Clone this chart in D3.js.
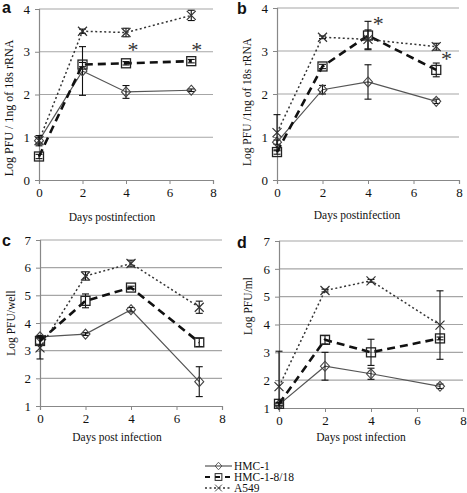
<!DOCTYPE html>
<html><head><meta charset="utf-8">
<script src="https://cdn.jsdelivr.net/npm/d3@7"></script>
<style>
body{margin:0;background:#fff;}
svg{display:block;}
.serif{font-family:"Liberation Serif","DejaVu Serif",serif;}
</style></head>
<body>
<svg id="chart" width="467" height="493"></svg>
<script>
// ---------- data ----------
const days = [0, 2, 4, 7];
const seriesNames = ["HMC-1", "HMC-1-8/18", "A549"];
const xTicks = [0, 2, 4, 6, 8];

// panel a : Log PFU / 1ng of 18s rRNA
const aHMC1 = [0.92, 2.55, 2.06, 2.10];
const aHMC1Err = [0.08, 0.57, 0.15, 0.03];
const aHMC818 = [0.55, 2.70, 2.73, 2.78];
const aHMC818Err = [0.05, 0.05, 0.04, 0.04];
const aA549 = [0.92, 3.48, 3.45, 3.85];
const aA549Err = [0.12, 0.05, 0.10, 0.12];
const aStars = [[4.32, 3.08], [7.25, 3.08]];

// panel b
const bHMC1 = [0.88, 2.10, 2.28, 1.83];
const bHMC1Err = [0.05, 0.10, 0.40, 0.05];
const bHMC818 = [0.65, 2.64, 3.36, 2.56];
const bHMC818Err = [0.05, 0.05, 0.33, 0.16];
const bA549 = [1.10, 3.32, 3.27, 3.10];
const bA549Err = [0.42, 0.03, 0.22, 0.08];
const bStars = [[4.45, 3.67], [7.45, 2.86]];

// panel c : Log PFU/well
const cHMC1 = [3.50, 3.60, 4.48, 1.88];
const cHMC1Err = [0.05, 0.05, 0.08, 0.54];
const cHMC818 = [3.35, 4.80, 5.28, 3.30];
const cHMC818Err = [0.12, 0.25, 0.05, 0.15];
const cA549 = [3.10, 5.70, 6.15, 4.57];
const cA549Err = [0.40, 0.15, 0.12, 0.22];

// panel d : Log PFU/ml
const dHMC1 = [1.12, 2.50, 2.23, 1.78];
const dHMC1Err = [0.05, 0.50, 0.20, 0.08];
const dHMC818 = [1.15, 3.45, 3.00, 3.50];
const dHMC818Err = [0.05, 0.15, 0.47, 0.05];
const dA549 = [1.77, 5.22, 5.57, 3.98];
const dA549Err = [1.27, 0.05, 0.05, 1.23];

const yTicksAB = [0, 1, 2, 3, 4];
const yTicksCD = [1, 2, 3, 4, 5, 6, 7];

// ---------- drawing ----------
const svg = d3.select("#chart");
const serif = '"Liberation Serif","DejaVu Serif",serif';
const styles = [
  {stroke:"#555", width:1.2, dash:null, marker:"diamond"},
  {stroke:"#111", width:2.6, dash:"8,5", marker:"square"},
  {stroke:"#333", width:1.5, dash:"2,2.5", marker:"x"}
];

function drawMarker(g, type, cx, cy){
  if(type==="diamond"){
    g.append("path").attr("d",`M${cx},${cy-5}L${cx+4.5},${cy}L${cx},${cy+5}L${cx-4.5},${cy}Z`)
      .attr("fill","none").attr("stroke","#444").attr("stroke-width",1.1);
  } else if(type==="square"){
    g.append("rect").attr("x",cx-4.5).attr("y",cy-4.5).attr("width",9).attr("height",9)
      .attr("fill","none").attr("stroke","#222").attr("stroke-width",1.3);
  } else {
    g.append("path").attr("d",`M${cx-4.5},${cy-4.5}L${cx+4.5},${cy+4.5}M${cx+4.5},${cy-4.5}L${cx-4.5},${cy+4.5}`)
      .attr("fill","none").attr("stroke","#333").attr("stroke-width",1.2);
  }
}

function panel(cfg){
  const x = d3.scaleLinear().domain([0,8]).range(cfg.xr);
  const y = d3.scaleLinear().domain(cfg.yd).range(cfg.yr);
  const g = svg.append("g");
  // gridlines
  g.selectAll(".grid").data(cfg.yTicks.filter(t=>t!==cfg.yd[0])).enter().append("line")
    .attr("x1",cfg.xr[0]).attr("x2",cfg.xr[1])
    .attr("y1",d=>y(d)).attr("y2",d=>y(d))
    .attr("stroke","#a6a6a6").attr("stroke-width",1.2);
  // y axis
  const ya = g.append("g").attr("transform",`translate(${cfg.xr[0]},0)`)
    .call(d3.axisLeft(y).tickValues(cfg.yTicks).tickSize(4).tickPadding(5).tickFormat(d3.format("d")));
  ya.attr("font-family",null);
  ya.select(".domain").attr("stroke","#888").attr("stroke-width",1.2);
  ya.selectAll(".tick line").attr("stroke","#888");
  ya.selectAll(".tick text").attr("class","serif").style("font-family",serif).style("font-size","13px").attr("fill","#111");
  // x axis
  const xa = g.append("g").attr("transform",`translate(0,${cfg.yr[0]})`)
    .call(d3.axisBottom(x).tickValues(xTicks).tickSize(4).tickPadding(4).tickFormat(d3.format("d")));
  xa.attr("font-family",null);
  xa.select(".domain").attr("stroke","#888").attr("stroke-width",1.2);
  xa.selectAll(".tick line").attr("stroke","#888");
  xa.selectAll(".tick text").attr("class","serif").style("font-family",serif).style("font-size","13px").attr("fill","#111");

  const yMin = cfg.yd[0], yMax = cfg.yd[1];
  cfg.series.forEach((s,i)=>{
    const st = styles[i];
    const pts = days.map((d,j)=>({d, v:s.v[j], e:s.e[j]}));
    g.append("path").datum(pts)
      .attr("d", d3.line().x(p=>x(p.d)).y(p=>y(p.v)))
      .attr("fill","none").attr("stroke",st.stroke).attr("stroke-width",st.width)
      .attr("stroke-dasharray",st.dash);
    // error bars
    pts.forEach(p=>{
      const lo = Math.max(yMin, p.v - p.e), hi = Math.min(yMax, p.v + p.e);
      g.append("line").attr("x1",x(p.d)).attr("x2",x(p.d)).attr("y1",y(lo)).attr("y2",y(hi))
        .attr("stroke","#111").attr("stroke-width",1.1);
      [lo,hi].forEach(b=>{
        if((b===lo && lo===yMin && p.v-p.e<yMin)) return;
        g.append("line").attr("x1",x(p.d)-3.5).attr("x2",x(p.d)+3.5).attr("y1",y(b)).attr("y2",y(b))
          .attr("stroke","#111").attr("stroke-width",1.1);
      });
    });
    pts.forEach(p=>drawMarker(g, st.marker, x(p.d), y(p.v)));
  });
  (cfg.stars||[]).forEach(s=>{
    g.append("text").attr("x",x(s[0])).attr("y",y(s[1])+9).attr("text-anchor","middle")
      .style("font-family",serif).style("font-size","22px").attr("fill","#333").text("*");
  });
  // titles
  g.append("text").attr("x",cfg.xt[0]).attr("y",cfg.xt[1]).attr("text-anchor","middle")
    .style("font-family",serif).style("font-size","11.5px").attr("fill","#111").text(cfg.xTitle);
  g.append("text").attr("transform",`translate(${cfg.yt[0]},${cfg.yt[1]}) rotate(-90)`)
    .attr("text-anchor","middle").style("font-family",serif).style("font-size",(cfg.ytSize||11.5)+"px")
    .attr("fill","#111").text(cfg.yTitle);
  g.append("text").attr("x",cfg.letter[0]).attr("y",cfg.letter[1])
    .style("font-family",'"Liberation Sans",Arial,sans-serif').attr("font-weight","bold")
    .style("font-size","16px").attr("fill","#111").text(cfg.label);
}

panel({label:"a", letter:[2,13], xr:[39,213], yd:[0,4], yr:[180,9], yTicks:yTicksAB,
  series:[{v:aHMC1,e:aHMC1Err},{v:aHMC818,e:aHMC818Err},{v:aA549,e:aA549Err}],
  stars:aStars, xTitle:"Days postinfection", xt:[112,221],
  yTitle:"Log PFU / 1ng of 18s rRNA", yt:[13,108], ytSize:12});
panel({label:"b", letter:[237,14], xr:[277,459], yd:[0,4], yr:[180,8], yTicks:yTicksAB,
  series:[{v:bHMC1,e:bHMC1Err},{v:bHMC818,e:bHMC818Err},{v:bA549,e:bA549Err}],
  stars:bStars, xTitle:"Days postinfection", xt:[357,219],
  yTitle:"Log PFU /1ng of 18s rRNA", yt:[251,102], ytSize:11.5});
panel({label:"c", letter:[2,246], xr:[40,222], yd:[1,7], yr:[406,240], yTicks:yTicksCD,
  series:[{v:cHMC1,e:cHMC1Err},{v:cHMC818,e:cHMC818Err},{v:cA549,e:cA549Err}],
  xTitle:"Days post infection", xt:[117,441],
  yTitle:"Log PFU/well", yt:[15,323]});
panel({label:"d", letter:[237,248], xr:[279,463], yd:[1,7], yr:[408,241], yTicks:yTicksCD,
  series:[{v:dHMC1,e:dHMC1Err},{v:dHMC818,e:dHMC818Err},{v:dA549,e:dA549Err}],
  xTitle:"Days post infection", xt:[361,441],
  yTitle:"Log PFU/ml", yt:[252,306]});

// legend
const leg = svg.append("g");
seriesNames.forEach((n,i)=>{
  const st = styles[i];
  const yy = 466 + i*11;
  leg.append("line").attr("x1",205).attr("x2",232).attr("y1",yy).attr("y2",yy)
    .attr("stroke",st.stroke).attr("stroke-width",i===1?2.2:st.width).attr("stroke-dasharray",i===1?"5,5":st.dash);
  const mg = leg.append("g").attr("transform",`translate(218.5,${yy}) scale(0.75) translate(-218.5,${-yy})`);
  drawMarker(mg, st.marker, 218.5, yy);
  leg.append("text").attr("x",234).attr("y",yy+4).style("font-family",serif).style("font-size","11.5px")
    .attr("fill","#111").text(n);
});
</script>
</body></html>
